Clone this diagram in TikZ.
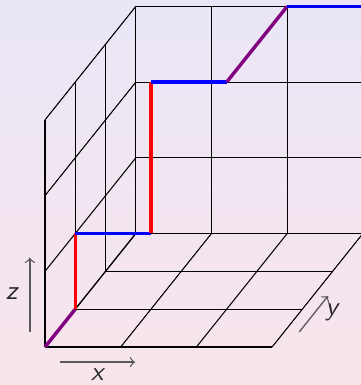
\documentclass[tikz,border=0pt]{standalone}
\usepackage{tikz}
\definecolor{bgtop}{RGB}{234,230,246}
\definecolor{bgbot}{RGB}{248,229,236}
\definecolor{stairpurple}{RGB}{128,0,128}

\begin{document}
\begin{tikzpicture}[
  x={(1cm,0cm)},y={(0.4cm,0.5cm)},z={(0cm,1cm)},
  grid/.style={black,line width=0.4pt},
  seg/.style={line width=1.3pt},
  axis/.style={->,black!65,line width=0.5pt},
  lbl/.style={font=\sffamily\itshape,text=black!85,inner sep=0pt}
]
\useasboundingbox (-0.5945cm,-0.502cm) rectangle (4.174cm,4.584cm);
\clip (-0.5945cm,-0.502cm) rectangle (4.174cm,4.584cm);
\shade[top color=bgtop,bottom color=bgbot] (-0.5945cm,-0.502cm) rectangle (4.174cm,4.584cm);

% floor, back wall, left wall
\foreach \i in {0,...,3} {
  \draw[grid] (\i,0,0) -- (\i,3,0);
  \draw[grid] (0,\i,0) -- (3,\i,0);
  \draw[grid] (\i,3,0) -- (\i,3,3);
  \draw[grid] (0,3,\i) -- (3,3,\i);
  \draw[grid] (0,\i,0) -- (0,\i,3);
  \draw[grid] (0,0,\i) -- (0,3,\i);
}

% the staircase path
\draw[seg,stairpurple] (0,0,0) -- (0,1,0);
\draw[seg,red] (0,1,0) -- (0,1,1);
\draw[seg,blue] (0,1,1) -- (1,1,1);
\draw[seg,red] (1,1,1) -- (1,1,3);
\draw[seg,blue] (1,1,3) -- (2,1,3);
\draw[seg,stairpurple] (2,1,3) -- (2,3,3);
\draw[seg,blue] (2,3,3) -- (3,3,3);

% axes
\coordinate (zs) at (-0.2,0,0.2);
\coordinate (ze) at (-0.2,0,1.18);
\coordinate (xs) at (0.2,0,-0.2);
\coordinate (xe) at (1.19,0,-0.2);
\coordinate (ys) at (3.2,0.4,0);
\coordinate (ye) at (3.2,1.35,0);
\draw[axis] (zs) -- (ze);
\draw[axis] (xs) -- (xe);
\draw[axis] (ys) -- (ye);
\node[lbl] (zl) at (-0.44,0,0.71) {z};
\node[lbl] (xl) at (0.69,0,-0.37) {x};
\node[lbl] (yl) at (3.42,0.92,0) {y};
\end{tikzpicture}
\end{document}
